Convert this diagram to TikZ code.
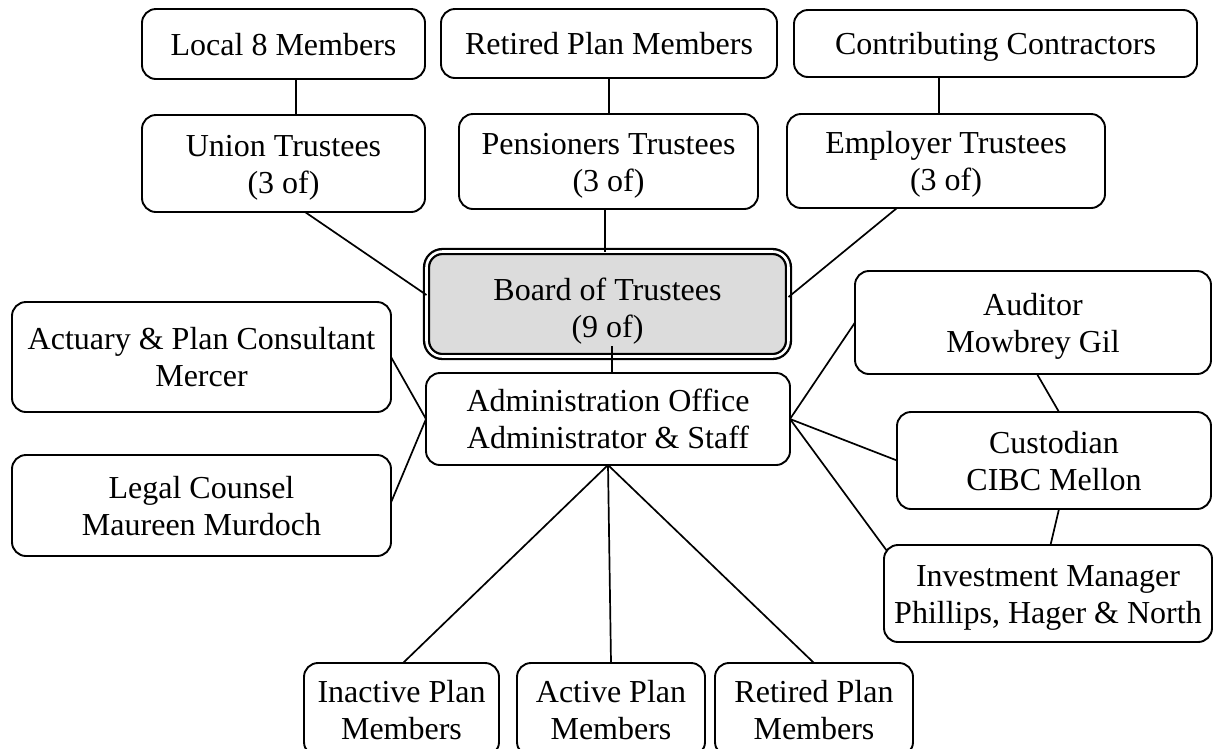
\documentclass[tikz,border=0pt]{standalone}
\usepackage{fontspec}
\setmainfont{Liberation Serif}
\begin{document}
\begin{tikzpicture}[x=1pt,y=-1pt,
  box/.style={draw, line width=1.9pt, rounded corners=14pt, inner sep=0pt, outer sep=0pt,
    align=center, font=\fontsize{32}{37}\selectfont, text height=59pt, text depth=0pt},
  one/.style={box, text height=22pt, text depth=0pt},
  conn/.style={line width=1.7pt},
  boardbox/.style={box, fill=boardgray, line width=2.3pt, double=white, double distance=2.6pt, rounded corners=16pt, text height=66pt},
]
\definecolor{boardgray}{HTML}{DCDCDC}
\useasboundingbox (0,0) rectangle (1214,748);
% top row
\node[one, minimum width=283pt, minimum height=70pt] (local8) at (283.5,44) {Local 8 Members};
\node[one, minimum width=336pt, minimum height=69pt] (retiredtop) at (609,43.5) {Retired Plan Members};
\node[one, minimum width=403pt, minimum height=67pt] (contrib) at (995.5,43.5) {Contributing Contractors};
% trustees
\node[box, minimum width=283pt, minimum height=97pt] (union) at (283.5,163.5) {Union Trustees\\(3 of)};
\node[box, minimum width=299pt, minimum height=95pt] (pens) at (608.5,161.5) {Pensioners Trustees\\(3 of)};
\node[box, minimum width=318pt, minimum height=94pt] (empl) at (946,161) {Employer Trustees\\(3 of)};
% board
\node[boardbox, minimum width=362pt, minimum height=105pt] (board) at (607.5,304) {Board of Trustees\\(9 of)};
% admin
\node[box, minimum width=364pt, minimum height=92pt] (admin) at (608,419) {Administration Office\\Administrator \& Staff};
% left
\node[box, minimum width=379pt, minimum height=110pt] (actuary) at (201.5,357) {Actuary \& Plan Consultant\\Mercer};
\node[box, minimum width=379pt, minimum height=101pt] (legal) at (201.5,505.5) {Legal Counsel\\Maureen Murdoch};
% right
\node[box, minimum width=356pt, minimum height=103pt] (auditor) at (1033,322.5) {Auditor\\Mowbrey Gil};
\node[box, minimum width=314pt, minimum height=97pt] (custodian) at (1054,460.5) {Custodian\\CIBC Mellon};
\node[box, minimum width=328pt, minimum height=97pt] (invest) at (1048,593.5) {Investment Manager\\Phillips, Hager \& North};
% bottom
\node[box, minimum width=195pt, minimum height=93pt] (inactive) at (401.5,709.5) {Inactive Plan\\Members};
\node[box, minimum width=188pt, minimum height=93pt] (active) at (611,709.5) {Active Plan\\Members};
\node[box, minimum width=198pt, minimum height=93pt] (retiredbot) at (814,709.5) {Retired Plan\\Members};
% connectors
\draw[conn] ([xshift=12.5pt]local8.south) -- ([xshift=12.5pt]union.north);
\draw[conn] (retiredtop.south) -- ([xshift=0.5pt]pens.north);
\draw[conn] ([xshift=-56.5pt]contrib.south) -- ([xshift=-7pt]empl.north);
\draw[conn] ([xshift=21.5pt]union.south) -- ([yshift=9pt]board.west);
\draw[conn] ([xshift=-3.5pt]pens.south) -- ([xshift=-2.5pt]board.north);
\draw[conn] ([xshift=-49pt]empl.south) -- ([yshift=7pt]board.east);
\draw[conn] ([xshift=4pt]admin.north) -- ([xshift=4.5pt,yshift=-42pt]board.center);
\draw[conn] (actuary.east) -- (admin.west);
\draw[conn] ([yshift=3pt]legal.east) -- (admin.west);
\draw[conn] (admin.east) -- (auditor.west);
\draw[conn] (admin.east) -- (custodian.west);
\draw[conn] (admin.east) -- ([xshift=3pt,yshift=-6pt]invest.north west);
\draw[conn] ([xshift=4pt]auditor.south) -- ([xshift=5pt]custodian.north);
\draw[conn] ([xshift=5pt]custodian.south) -- ([xshift=2.5pt]invest.north);
\draw[conn] (admin.south) -- ([xshift=1.5pt]inactive.north);
\draw[conn] (admin.south) -- (active.north);
\draw[conn] (admin.south) -- (retiredbot.north);
\end{tikzpicture}
\end{document}
